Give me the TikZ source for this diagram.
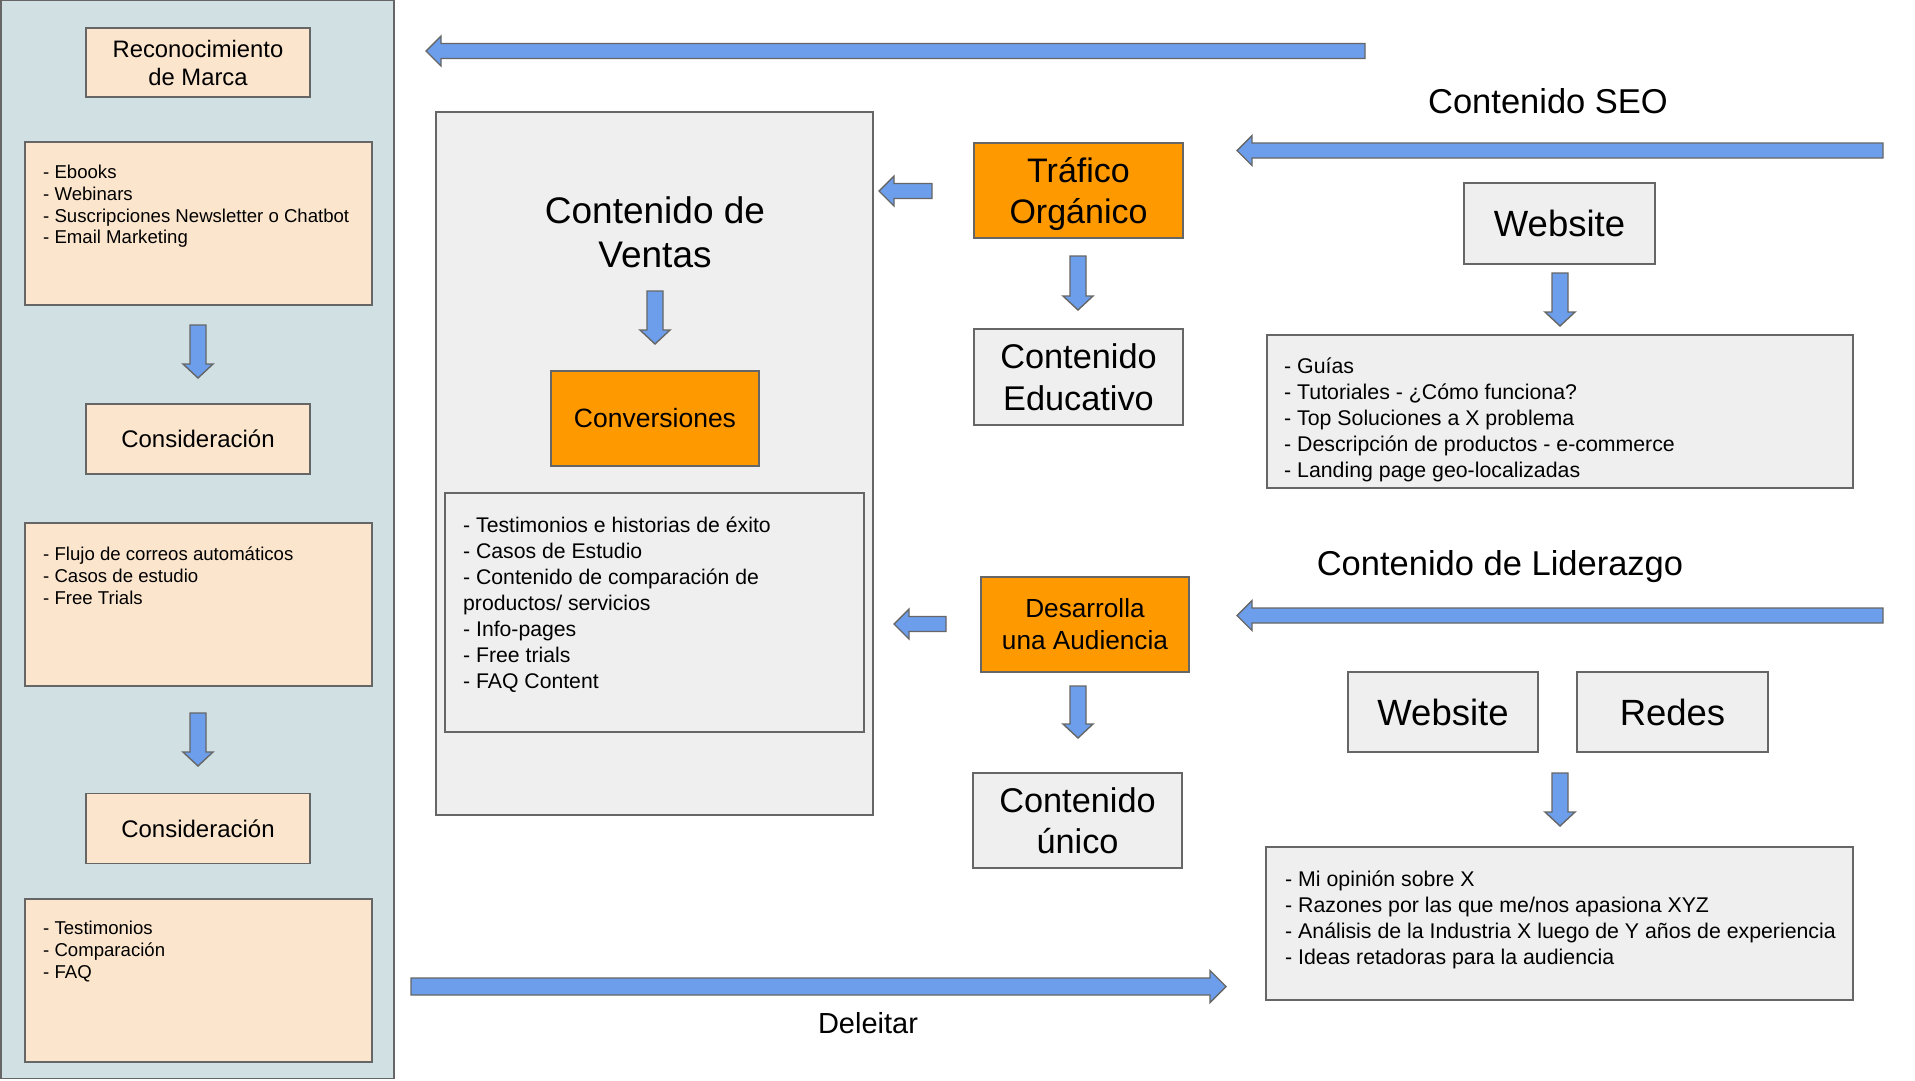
\documentclass[tikz,border=0pt]{standalone}
\usepackage{fontspec}
\setmainfont{Liberation Sans}
\definecolor{panelfill}{HTML}{D0E0E3}
\definecolor{peach}{HTML}{FCE5CD}
\definecolor{lgray}{HTML}{EFEFEF}
\definecolor{orng}{HTML}{FF9900}
\definecolor{arrblue}{HTML}{6D9EEB}
\definecolor{edge}{HTML}{666666}
\newcommand\myfs[2]{\fontsize{#1}{#2}\selectfont}
% down block arrow: x, top, tip
\newcommand\arrD[3]{\path[blockarrow] (#1,#3) -- (#1-15,#3-14) -- (#1-8,#3-14) -- (#1-8,#2) -- (#1+8,#2) -- (#1+8,#3-14) -- (#1+15,#3-14) -- cycle;}
% left block arrow: tip x, tail x, y
\newcommand\arrL[3]{\path[blockarrow] (#1,#3) -- (#1+15,#3-15) -- (#1+15,#3-7.5) -- (#2,#3-7.5) -- (#2,#3+7.5) -- (#1+15,#3+7.5) -- (#1+15,#3+15) -- cycle;}
% right block arrow: tail x, tip x, y
\newcommand\arrR[3]{\path[blockarrow] (#2,#3) -- (#2-16,#3-16) -- (#2-16,#3-8.5) -- (#1,#3-8.5) -- (#1,#3+8.5) -- (#2-16,#3+8.5) -- (#2-16,#3+16) -- cycle;}
\tikzset{
  boxbase/.style={draw=edge, line width=1.6pt, inner sep=0pt, outer sep=0pt, align=center, text=black},
  peachbox/.style={boxbase, fill=peach},
  graybox/.style={boxbase, fill=lgray},
  orangebox/.style={boxbase, fill=orng},
  blockarrow/.style={fill=arrblue, draw=edge, line width=1.4pt, line join=miter},
  listtext/.style={inner sep=0pt, anchor=north west, align=left, text=black},
  titletext/.style={inner sep=0pt, anchor=base, text=black},
  leftlist/.style={listtext, font=\myfs{18.6}{21.7}},
  rightlist/.style={listtext, font=\myfs{21.3}{26}},
}
\begin{document}
\begin{tikzpicture}[x=1pt,y=-1pt]
\useasboundingbox (0,0) rectangle (1915,1080);
\fill[white] (0,0) rectangle (1915,1080);

% ---------- left panel ----------
\node[boxbase, fill=panelfill, minimum width=393pt, minimum height=1078pt] (panel) at (197.5,539.5) {};
\node[peachbox, minimum width=224pt, minimum height=69pt, font=\myfs{23.8}{28}] (recon) at (198,62.5) {Reconocimiento\\de Marca};
\node[peachbox, minimum width=347pt, minimum height=163pt] (ebooks) at (198.5,223.5) {};
\node[leftlist] (ebooksT) at (43,160) {\rule{0pt}{1em}- Ebooks\\- Webinars\\- Suscripciones Newsletter o Chatbot\\- Email Marketing};
\arrD{198}{325}{378}
\node[peachbox, minimum width=224pt, minimum height=70pt, font=\myfs{24}{28}] (cons1) at (198,439) {Consideración};
\node[peachbox, minimum width=347pt, minimum height=163pt] (flujo) at (198.5,604.5) {};
\node[leftlist] (flujoT) at (43,542) {\rule{0pt}{1em}- Flujo de correos automáticos\\- Casos de estudio\\- Free Trials};
\arrD{198}{713}{766}
\node[peachbox, minimum width=224pt, minimum height=70pt, font=\myfs{24}{28}] (cons2) at (198,828.5) {Consideración};
\node[peachbox, minimum width=347pt, minimum height=163pt] (testi) at (198.5,980.5) {};
\node[leftlist] (testiT) at (43,916) {\rule{0pt}{1em}- Testimonios\\- Comparación\\- FAQ};

% ---------- top arrow ----------
\arrL{426}{1365}{51}

% ---------- ventas column ----------
\node[graybox, minimum width=437pt, minimum height=703pt] (ventas) at (654.5,463.5) {};
\node[inner sep=0pt, align=center, font=\myfs{37}{44}] (ventasT) at (655,232) {Contenido de\\Ventas};
\arrD{655}{291}{344}
\node[orangebox, minimum width=208pt, minimum height=95pt, font=\myfs{26.5}{31}] (conv) at (655,418.5) {Conversiones};
\node[graybox, minimum width=419pt, minimum height=239pt] (vlist) at (654.5,612.5) {};
\node[listtext, font=\myfs{21.2}{26}] (vlistT) at (463,511.4) {\rule{0pt}{1em}- Testimonios e historias de éxito\\- Casos de Estudio\\- Contenido de comparación de\\productos/ servicios\\- Info-pages\\- Free trials\\- FAQ Content};

% ---------- middle column ----------
\arrL{879}{932}{191}
\node[orangebox, minimum width=209pt, minimum height=95pt] (trafico) at (1078.5,190.5) {};
\node[inner sep=0pt, align=center, font=\myfs{34}{41}] (traficoT) at (1078.5,194) {Tráfico\\Orgánico};
\arrD{1078}{256}{310}
\node[graybox, minimum width=209pt, minimum height=96pt, font=\myfs{34.3}{42}] (educ) at (1078.5,377) {Contenido\\Educativo};
\arrL{894}{946}{624}
\node[orangebox, minimum width=208pt, minimum height=95pt, font=\myfs{26.2}{32}] (desarr) at (1085,624.5) {Desarrolla\\una Audiencia};
\arrD{1078}{686}{738}
\node[graybox, minimum width=209pt, minimum height=95pt, font=\myfs{34.3}{41}] (unico) at (1077.5,820.5) {Contenido\\único};

% ---------- SEO ----------
\node[titletext, font=\myfs{34.5}{41}] (seoT) at (1548,113.4) {Contenido SEO};
\arrL{1237}{1883}{150.5}
\node[graybox, minimum width=191pt, minimum height=81pt, font=\myfs{36.5}{43}] (web1) at (1559.5,223.5) {Website};
\arrD{1560}{273}{326}
\node[graybox, minimum width=586pt, minimum height=153pt] (guias) at (1560,411.5) {};
\node[rightlist] (guiasT) at (1284,352.4) {\rule{0pt}{1em}- Guías\\- Tutoriales - ¿Cómo funciona?\\- Top Soluciones a X problema\\- Descripción de productos - e-commerce\\- Landing page geo-localizadas};

% ---------- Liderazgo ----------
\node[titletext, font=\myfs{34.5}{41}] (liderT) at (1500,575.4) {Contenido de Liderazgo};
\arrL{1237}{1883}{615.5}
\node[graybox, minimum width=190pt, minimum height=80pt, font=\myfs{36.5}{43}] (web2) at (1443,712) {Website};
\node[graybox, minimum width=191pt, minimum height=80pt, font=\myfs{36.5}{43}] (redes) at (1672.5,712) {Redes};
\arrD{1560}{773}{826}
\node[graybox, minimum width=587pt, minimum height=153pt] (opin) at (1559.5,923.5) {};
\node[rightlist] (opinT) at (1285,865.4) {\rule{0pt}{1em}- Mi opinión sobre X\\- Razones por las que me/nos apasiona XYZ\\- Análisis de la Industria X luego de Y años de experiencia\\- Ideas retadoras para la audiencia};

% ---------- Deleitar ----------
\arrR{411}{1226}{986.5}
\node[titletext, font=\myfs{29}{35}] (delT) at (868,1033.5) {Deleitar};
\end{tikzpicture}
\end{document}
